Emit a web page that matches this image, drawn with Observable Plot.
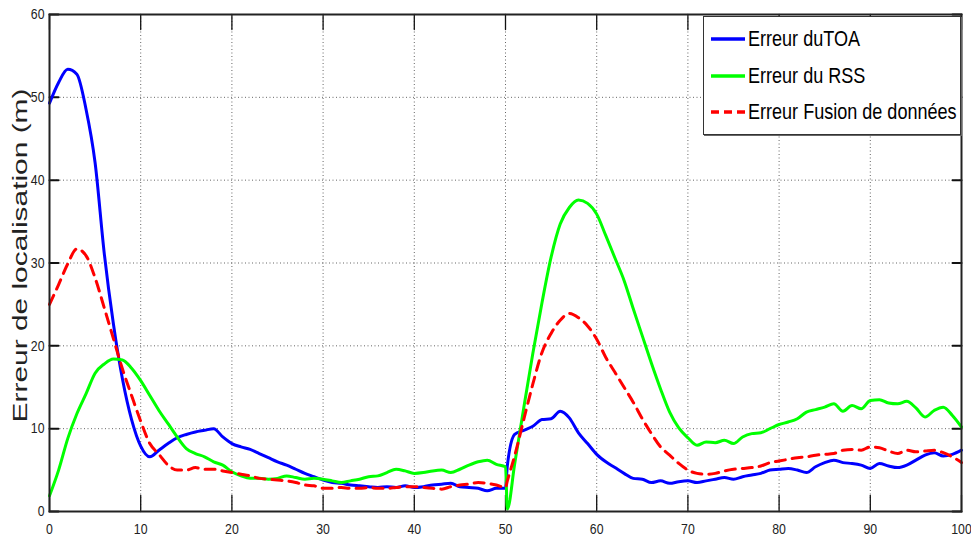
<!DOCTYPE html>
<html>
<head>
<meta charset="utf-8">
<script src="https://cdn.jsdelivr.net/npm/d3@7"></script>
<script src="https://cdn.jsdelivr.net/npm/@observablehq/plot@0.6"></script>
<style>
  body { margin: 0; background: #fff; }
  #wrap { position: relative; width: 971px; height: 541px; }
  .legend { position: absolute; left: 703px; top: 16px; width: 256px; height: 117px;
            border: 1px solid #333; background: #fff; box-shadow: 1px 1px 0 #666;
            font-family: "Liberation Sans", Arial, sans-serif;
            font-size: 22px; color: #000; }
  .row { position: absolute; left: 6px; height: 30px; display: flex; align-items: center; white-space: nowrap; }
  .row svg { margin-right: 2px; flex: none; }
  .row span { display: inline-block; transform: scaleX(0.82); transform-origin: left center; }
</style>
</head>
<body>
<div id="wrap"></div>
<script>
// ---- data ----
const xTicks = [0, 10, 20, 30, 40, 50, 60, 70, 80, 90, 100];
const yTicks = [0, 10, 20, 30, 40, 50, 60];
const seriesNames = ["Erreur duTOA", "Erreur du RSS", "Erreur Fusion de données"];
const yLabel = "Erreur de localisation (m)";

const xs = [
  0, 1, 2, 3, 4, 5, 6, 7, 8, 9,
  10, 11, 12, 13, 14, 15, 16, 17, 18, 19,
  20, 21, 22, 23, 24, 25, 26, 27, 28, 29,
  30, 31, 32, 33, 34, 35, 36, 37, 38, 39,
  40, 41, 42, 43, 44, 45, 46, 47, 48, 49,
  50, 50.2,
  51, 52, 53, 54, 55, 56, 57, 58, 59, 60,
  61, 62, 63, 64, 65, 66, 67, 68, 69, 70,
  71, 72, 73, 74, 75, 76, 77, 78, 79, 80,
  81, 82, 83, 84, 85, 86, 87, 88, 89, 90,
  91, 92, 93, 94, 95, 96, 97, 98, 99, 100
];

const toa = [
  49.3, 51.8, 53.4, 52.8, 48.6, 42.1, 31.2, 22.7, 16.0, 11.1,
  7.9, 6.6, 7.4, 8.2, 8.9, 9.3, 9.6, 9.8, 10.0, 9.0,
  8.2, 7.8, 7.5, 7.0, 6.5, 6.0, 5.6, 5.1, 4.6, 4.2,
  3.8, 3.5, 3.4, 3.2, 3.1, 3.0, 2.9, 3.0, 2.9, 3.1,
  2.9, 3.0, 3.2, 3.3, 3.4, 3.0, 2.9, 2.8, 2.5, 2.8,
  2.8, 5.5,
  9.3, 9.8, 10.3, 11.1, 11.2, 12.1, 11.3, 9.5, 8.2, 6.9,
  6.0, 5.3, 4.6, 4.0, 3.9, 3.5, 3.7, 3.4, 3.6, 3.7,
  3.5, 3.7, 3.9, 4.1, 3.9, 4.2, 4.4, 4.6, 5.0, 5.1,
  5.2, 5.0, 4.7, 5.4, 5.9, 6.2, 5.9, 5.8, 5.6, 5.2,
  5.8, 5.5, 5.3, 5.6, 6.2, 6.8, 7.1, 6.7, 6.9, 7.4
];

const rss = [
  1.9, 5.0, 8.8, 11.8, 14.2, 16.7, 17.8, 18.4, 18.3, 17.3,
  15.8, 14.0, 12.2, 10.6, 9.0, 7.6, 7.0, 6.6, 6.0, 5.6,
  4.8, 4.3, 4.0, 4.0, 3.9, 4.0, 4.3, 4.1, 3.9, 4.0,
  3.9, 3.7, 3.5, 3.7, 3.9, 4.2, 4.3, 4.7, 5.1, 4.9,
  4.6, 4.7, 4.9, 5.0, 4.7, 5.1, 5.6, 6.0, 6.2, 5.7,
  5.4, 0.3,
  5.7, 12.5, 19.1, 25.2, 30.7, 34.7, 36.7, 37.6, 37.2, 35.9,
  33.3, 30.6, 27.9, 24.5, 21.2, 17.9, 14.8, 12.0, 10.1, 8.9,
  8.0, 8.4, 8.3, 8.6, 8.2, 9.0, 9.4, 9.5, 10.0, 10.5,
  10.8, 11.2, 12.0, 12.3, 12.6, 13.0, 12.1, 12.8, 12.4, 13.4,
  13.5, 13.1, 13.0, 13.3, 12.5, 11.4, 12.2, 12.6, 11.6, 10.2
];

const fusion = [
  25.0, 27.4, 29.9, 31.7, 30.9, 28.2, 24.6, 20.9, 17.2, 14.0,
  10.9, 8.2, 6.9, 5.6, 5.0, 5.0, 5.3, 5.1, 5.1, 4.9,
  4.7, 4.5, 4.3, 4.0, 3.9, 3.8, 3.7, 3.5, 3.2, 3.1,
  2.8, 2.8, 2.9, 2.8, 2.8, 2.9, 2.8, 2.8, 2.9, 3.0,
  3.0, 2.9, 2.8, 2.7, 3.0, 3.2, 3.3, 3.5, 3.4, 3.2,
  2.9, 3.7,
  6.7, 11.1, 15.4, 19.2, 21.5, 23.1, 23.9, 23.4, 22.4, 20.8,
  18.6, 16.8, 15.0, 13.2, 11.2, 9.4, 7.8, 6.8, 5.8, 5.0,
  4.6, 4.5, 4.6, 4.9, 5.1, 5.2, 5.3, 5.5, 5.9, 6.1,
  6.3, 6.5, 6.6, 6.8, 6.9, 7.0, 7.4, 7.5, 7.4, 7.8,
  7.7, 7.3, 7.0, 7.4, 7.2, 7.3, 7.4, 7.1, 6.6, 5.9
];

const colors = ["#0000ff", "#00ff00", "#ff0000"];
const dashes = [null, null, "10,7"];

// ---- build ----
const makeRows = (ys) => xs.map((x, i) => ({x, y: ys[i]}));
const rows = [makeRows(toa), makeRows(rss), makeRows(fusion)];

const tickShape = { draw(context, l) { context.moveTo(0, 0); context.lineTo(0, -l); } };
const sans = "'Liberation Sans', Arial, sans-serif";

const chart = Plot.plot({
  width: 971,
  height: 541,
  marginLeft: 49,
  marginRight: 10,
  marginTop: 14,
  marginBottom: 30,
  style: { fontFamily: sans, fontSize: "15px", color: "#222", background: "#fff" },
  x: { domain: [0, 100] },
  y: { domain: [0, 60] },
  marks: [
    Plot.gridX(xTicks, { stroke: "#555", strokeOpacity: 0.9, strokeDasharray: "1,2.5" }),
    Plot.gridY(yTicks, { stroke: "#555", strokeOpacity: 0.9, strokeDasharray: "1,2.5" }),
    Plot.axisX(xTicks, { tickSize: 0, tickPadding: 12, label: null, fontSize: 15 }),
    Plot.axisY(yTicks, { tickSize: 0, tickPadding: 5, label: null, fontSize: 15 }),
    // inner ticks (MATLAB style)
    Plot.vector(xTicks, { x: d => d, frameAnchor: "bottom", length: 16, rotate: 0, anchor: "start", shape: tickShape, stroke: "#111", strokeWidth: 1.3 }),
    Plot.vector(xTicks, { x: d => d, frameAnchor: "top", length: 15, rotate: 180, anchor: "start", shape: tickShape, stroke: "#111", strokeWidth: 1.3 }),
    Plot.vector(yTicks, { y: d => d, frameAnchor: "left", length: 9, rotate: 90, anchor: "start", shape: tickShape, stroke: "#111", strokeWidth: 2 }),
    Plot.vector(yTicks, { y: d => d, frameAnchor: "right", length: 9, rotate: -90, anchor: "start", shape: tickShape, stroke: "#111", strokeWidth: 2 }),
    // series
    ...rows.map((r, i) => Plot.line(r, { x: "x", y: "y", stroke: colors[i], strokeWidth: 3, strokeDasharray: dashes[i], curve: "monotone-x" })),
    Plot.frame({ stroke: "#222", strokeWidth: 2 }),
    Plot.text([yLabel], { frameAnchor: "left", textAnchor: "middle", lineAnchor: "middle", rotate: -90, dx: -29, dy: -7.5, fontSize: 21, fontFamily: sans, fill: "#222" })
  ]
});

const wrap = document.getElementById("wrap");
wrap.appendChild(chart);

// narrow tick labels (the reference's tick font is condensed)
d3.select(chart).selectAll('g[aria-label="x-axis tick label"] text, g[aria-label="y-axis tick label"] text')
  .each(function () {
    const t = this.getAttribute("transform") || "";
    this.setAttribute("transform", t + " scale(0.82,1)");
  });

// stretch the y label like the reference (about 334px long)
d3.select(chart).selectAll("text").filter(function () { return this.textContent === yLabel; })
  .each(function () {
    const w = this.getComputedTextLength();
    const t = this.getAttribute("transform") || "";
    this.setAttribute("transform", t + ` scale(${334 / w},1)`);
  });

// legend (overlay, inside plot area, top-right)
const legend = document.createElement("div");
legend.className = "legend";
const rowTops = [7, 44, 80];
seriesNames.forEach((name, i) => {
  const row = document.createElement("div");
  row.className = "row";
  row.style.top = rowTops[i] + "px";
  row.innerHTML = `<svg width="36" height="10"><line x1="1" y1="5" x2="35" y2="5" stroke="${colors[i]}" stroke-width="3.5" ${dashes[i] ? 'stroke-dasharray="8,5"' : ''}/></svg><span>${name}</span>`;
  legend.appendChild(row);
});
wrap.appendChild(legend);
</script>
</body>
</html>
